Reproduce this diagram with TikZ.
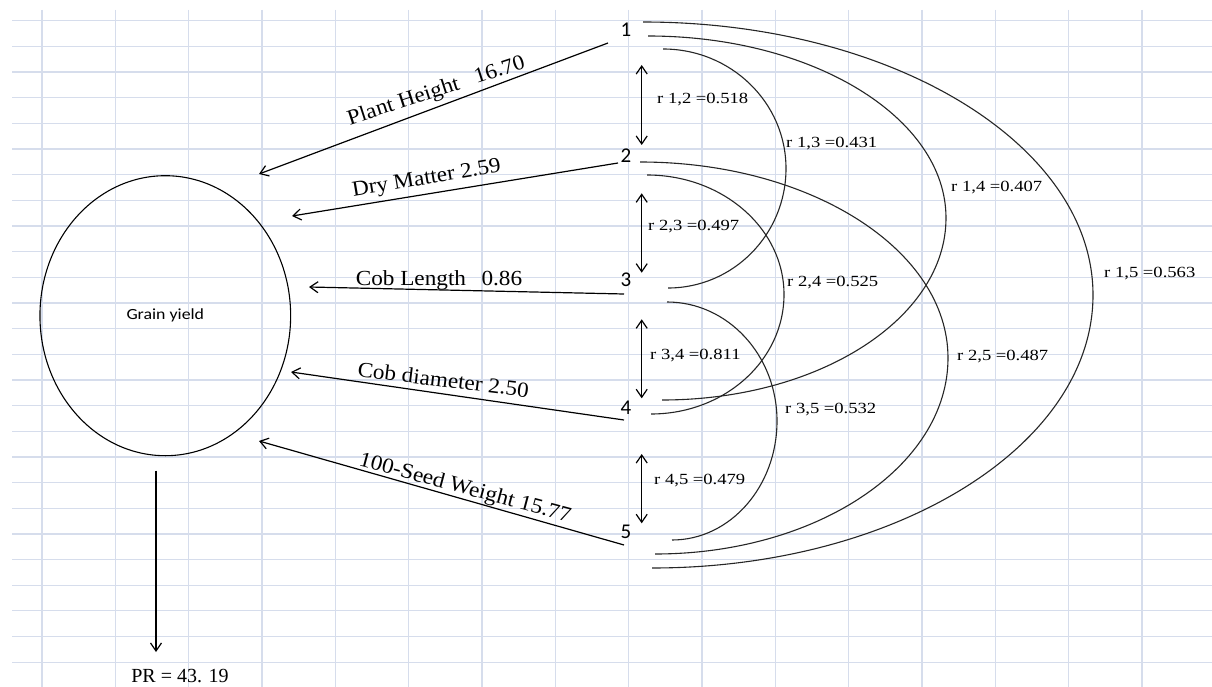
\documentclass[tikz,border=0pt]{standalone}
\usepackage{fontspec}
\setmainfont{Liberation Serif}
\newfontfamily\lblfont[FakeStretch=1.08]{Liberation Serif}
\newfontfamily\rfont[FakeStretch=1.2]{Liberation Serif}
\newfontfamily\numfont{Carlito}
\newfontfamily\gyfont[FakeStretch=1.15]{Carlito}
\usetikzlibrary{arrows.meta,calc,shapes.geometric}
\definecolor{gridc}{RGB}{214,221,236}
\begin{document}
\begin{tikzpicture}[x=1pt,y=-1pt,
  gridline/.style={draw=gridc, line width=1.2pt},
  arr/.style={-{Straight Barb[length=8pt,width=11pt]}, line width=1.2pt},
  dbl/.style={{Straight Barb[length=8pt,width=11pt]}-{Straight Barb[length=8pt,width=11pt]}, line width=1.2pt},
  arcline/.style={line width=1.1pt, draw=black!85},
  ell/.style={ellipse, draw, line width=1.1pt, minimum width=250.7pt, minimum height=280pt, inner sep=0pt},
  num/.style={inner sep=0pt, font=\numfont\fontsize{21}{21}\selectfont},
  lbl/.style={inner sep=0pt, anchor=base, font=\lblfont\fontsize{21.5}{24}\selectfont},
  rlbl/.style={inner sep=0pt, anchor=west, font=\rfont\fontsize{15.5}{18}\selectfont}]
\useasboundingbox (0,0) rectangle (1212,687);
\fill[white] (0,0) rectangle (1212,687);
% grid
\foreach \i in {0,...,15} \draw[gridline] ({42+73.333*\i},10) -- ({42+73.333*\i},687);
\foreach \j in {0,...,25} \draw[gridline] (12,{20.7+25.66*\j}) -- (1212,{20.7+25.66*\j});
% main nodes
\node[ell] (gy) at (165.3,315.7) {\gyfont\fontsize{15.5}{18}\selectfont Grain yield};
\node[num] (n1) at (626,30) {1};
\node[num] (n2) at (626,156) {2};
\node[num] (n3) at (626,280) {3};
\node[num] (n4) at (626,408) {4};
\node[num] (n5) at (626,532) {5};
\node[inner sep=0pt, anchor=base, font=\fontsize{20}{22}\selectfont] (pr) at (180,682) {PR = 43. 19};
% arrow tips
\coordinate (t1) at (259,174);
\coordinate (t2) at (292,216);
\coordinate (t3) at (309,287);
\coordinate (t4) at (291,372);
\coordinate (t5) at (259,441);
\coordinate (gyout) at ($(gy.south)+(-9.3,14.3)$);
\coordinate (prtip) at (156,652);
% left arrows
\draw[arr] ($(n1)+(-18,13)$) -- (t1);
\draw[arr] ($(n2)+(-8,7)$) -- (t2);
\draw[arr] ($(n3)+(-2,14)$) -- (t3);
\draw[arr] ($(n4)+(-2,12)$) -- (t4);
\draw[arr] ($(n5)+(-2,13)$) -- (t5);
\draw[arr] (gyout) -- (prtip);
% arrow labels
\node[lbl, rotate=18] (l1) at (438,96.5) {Plant Height\hspace{0.5em} 16.70};
\node[lbl, rotate=9.5] (l2) at (427.5,184) {Dry Matter 2.59};
\node[lbl, rotate=0] (l3) at (439,285) {Cob Length\hspace{0.45em} 0.86};
\node[lbl, rotate=-7] (l4) at (442.5,387) {Cob diameter 2.50};
\node[lbl, rotate=-15] (l5) at (463.5,494) {100-Seed Weight 15.77};
% adjacent correlations
\draw[dbl] ($(n1)+(15.7,35)$) -- ($(n2)+(15.7,-11)$);
\draw[dbl] ($(n2)+(15.7,37.3)$) -- ($(n3)+(15.7,-7.3)$);
\draw[dbl] ($(n3)+(15.7,39.3)$) -- ($(n4)+(15.7,-9.7)$);
\draw[dbl] ($(n4)+(15.7,46)$) -- ($(n5)+(15.7,-8.7)$);
% arcs
\draw[arcline] ($(n1)+(37,19)$) .. controls +(67.9,0) and +(0,-66) .. (786,168.5) .. controls +(0,66) and +(65.2,0) .. ($(n3)+(42,8)$);
\draw[arcline] ($(n1)+(22,6)$) .. controls +(164.6,0) and +(0,-100.5) .. (946,218) .. controls +(0,100.5) and +(156.9,0) .. ($(n4)+(36,-8)$);
\draw[arcline] ($(n1)+(17,-8)$) .. controls +(248.5,0) and +(0,-150.8) .. (1093,295) .. controls +(0,150.8) and +(243.6,0) .. ($(n5)+(26,36)$);
\draw[arcline] ($(n2)+(21,19)$) .. controls +(75.7,0) and +(0,-66) .. (784,294.5) .. controls +(0,66) and +(73.5,0) .. ($(n4)+(25,6)$);
\draw[arcline] ($(n2)+(14,6)$) .. controls +(170.1,0) and +(0,-108.3) .. (948,358) .. controls +(0,108.3) and +(161.8,0) .. ($(n5)+(29,22)$);
\draw[arcline] ($(n3)+(41,22)$) .. controls +(60.8,0) and +(0,-65.7) .. (777,421) .. controls +(0,65.7) and +(58,0) .. ($(n5)+(46,8)$);
% correlation labels
\node[rlbl] (r12) at (657,100) {r 1,2 =0.518};
\node[rlbl] (r23) at (648,227) {r 2,3 =0.497};
\node[rlbl] (r34) at (650,356) {r 3,4 =0.811};
\node[rlbl] (r45) at (654,481) {r 4,5 =0.479};
\node[rlbl] (r13) at (786,144) {r 1,3 =0.431};
\node[rlbl] (r14) at (951,188) {r 1,4 =0.407};
\node[rlbl] (r15) at (1104,274) {r 1,5 =0.563};
\node[rlbl] (r24) at (787,283) {r 2,4 =0.525};
\node[rlbl] (r25) at (957,357) {r 2,5 =0.487};
\node[rlbl] (r35) at (785,410) {r 3,5 =0.532};
\end{tikzpicture}
\end{document}
